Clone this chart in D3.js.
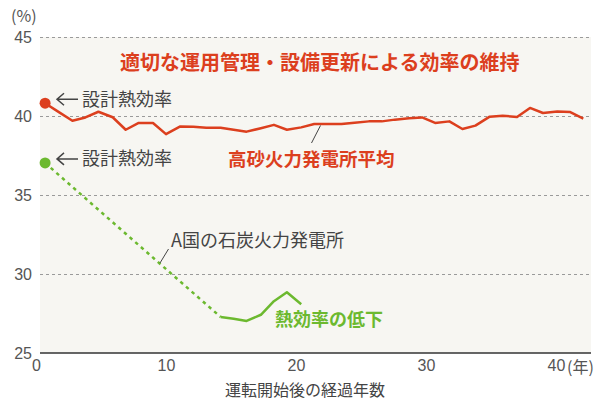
<!DOCTYPE html>
<html>
<head>
<meta charset="utf-8">
<script src="https://cdn.jsdelivr.net/npm/d3@7"></script>
<style>
  body { margin: 0; background: #fff; }
  svg { display: block; font-family: "Noto Sans CJK JP", "Noto Sans", sans-serif; }
</style>
</head>
<body>
<div id="chart"></div>
<script>
// data
const RED_YEARS = [0.7, 1.7, 2.8, 3.8, 4.8, 5.9, 6.9, 7.9, 9.0, 10.0, 11.1, 12.1, 13.1, 14.2,
                   15.2, 16.2, 17.3, 18.3, 19.3, 20.4, 21.4, 22.5, 23.5, 24.5, 25.6, 26.6, 27.6,
                   28.7, 29.7, 30.7, 31.8, 32.8, 33.8, 34.9, 35.9, 37.0, 38.0, 39.0, 40.1, 41.1, 42.1];
const RED_VALUES = [40.81, 40.28, 39.70, 39.91, 40.27, 39.92, 39.13, 39.56, 39.56, 38.85, 39.34,
                    39.32, 39.26, 39.26, 39.13, 39.01, 39.23, 39.44, 39.13, 39.28, 39.49, 39.49,
                    39.49, 39.58, 39.66, 39.66, 39.77, 39.86, 39.91, 39.56, 39.66, 39.18, 39.39,
                    39.96, 40.02, 39.94, 40.51, 40.19, 40.29, 40.25, 39.83];
const GREEN_DESIGN = {year: 0.7, value: 37.03};
const GREEN_YEARS = [14.2, 15.2, 16.2, 17.3, 18.3, 19.3, 20.4];
const GREEN_VALUES = [27.28, 27.17, 27.03, 27.42, 28.28, 28.84, 28.09];
const X_TICKS = [0, 10, 20, 30, 40];
const Y_TICKS = [25, 30, 35, 40, 45];

const FRAME_WIDTH = 594;
const FRAME_HEIGHT = 401;
const PLOT = {left: 40, right: 591, top: 37, bottom: 353};

const RED = "#dc3f1e";
const GREEN = "#6cb92f";
const TEXT = "#444";

const FRAME = d3.select("#chart")
                .append("svg")
                  .attr("width", FRAME_WIDTH)
                  .attr("height", FRAME_HEIGHT);

const X_SCALE = d3.scaleLinear().domain([0, 40]).range([36, 556]);
const Y_SCALE = d3.scaleLinear().domain([25, 45]).range([PLOT.bottom, PLOT.top]);

// plot background
FRAME.append("rect")
      .attr("x", PLOT.left)
      .attr("y", PLOT.top)
      .attr("width", PLOT.right - PLOT.left)
      .attr("height", PLOT.bottom - PLOT.top)
      .attr("fill", "#f7f6f2");

// y axis with dashed grid
const yAxis = FRAME.append("g")
      .attr("transform", "translate(" + PLOT.left + ",0)")
      .call(d3.axisLeft(Y_SCALE).tickValues(Y_TICKS)
              .tickSize(-(PLOT.right - PLOT.left)).tickPadding(8));
yAxis.select(".domain").remove();
yAxis.selectAll(".tick line")
      .attr("stroke", "#9a9a9a")
      .attr("stroke-dasharray", "3,3")
      .filter(d => d === 25).remove();
yAxis.selectAll(".tick text")
      .attr("fill", "#555")
      .style("font-size", "16px");

// x axis
const xAxis = FRAME.append("g")
      .attr("transform", "translate(0," + PLOT.bottom + ")")
      .call(d3.axisBottom(X_SCALE).tickValues(X_TICKS).tickSize(0).tickPadding(7));
xAxis.select(".domain").remove();
xAxis.selectAll(".tick text")
      .attr("fill", "#555")
      .style("font-size", "16px");

FRAME.append("line")
      .attr("x1", PLOT.left).attr("x2", PLOT.right)
      .attr("y1", PLOT.bottom).attr("y2", PLOT.bottom)
      .attr("stroke", "#333")
      .attr("stroke-width", 1.5);

FRAME.append("text")
      .attr("x", X_SCALE(40) + 11).attr("y", PLOT.bottom + 20)
      .attr("fill", "#555").style("font-size", "16px")
      .text("(年)");

FRAME.append("text")
      .attr("x", 11).attr("y", 22)
      .attr("fill", "#555").style("font-size", "16px")
      .text("(%)");

FRAME.append("text")
      .attr("x", 225).attr("y", 396)
      .attr("fill", TEXT).style("font-size", "16px")
      .text("運転開始後の経過年数");

// red line
const redData = RED_YEARS.map((y, i) => ({year: y, value: RED_VALUES[i]}));
const line = d3.line().x(d => X_SCALE(d.year)).y(d => Y_SCALE(d.value));

FRAME.append("path")
      .datum(redData)
      .attr("d", line)
      .attr("fill", "none")
      .attr("stroke", RED)
      .attr("stroke-width", 2.5)
      .attr("stroke-linejoin", "round");

FRAME.append("circle")
      .attr("cx", X_SCALE(redData[0].year))
      .attr("cy", Y_SCALE(redData[0].value))
      .attr("r", 5.5)
      .attr("fill", RED);

// green line
const greenData = GREEN_YEARS.map((y, i) => ({year: y, value: GREEN_VALUES[i]}));

FRAME.append("path")
      .datum([GREEN_DESIGN, greenData[0]])
      .attr("d", line)
      .attr("fill", "none")
      .attr("stroke", GREEN)
      .attr("stroke-width", 2.5)
      .attr("stroke-dasharray", "3.5,4");

FRAME.append("path")
      .datum(greenData)
      .attr("d", line)
      .attr("fill", "none")
      .attr("stroke", GREEN)
      .attr("stroke-width", 2.5)
      .attr("stroke-linejoin", "round");

FRAME.append("circle")
      .attr("cx", X_SCALE(GREEN_DESIGN.year))
      .attr("cy", Y_SCALE(GREEN_DESIGN.value))
      .attr("r", 5.5)
      .attr("fill", GREEN);

// annotations
FRAME.append("text")
      .attr("x", 120).attr("y", 69.5)
      .attr("fill", RED).style("font-size", "20px").style("font-weight", "bold")
      .text("適切な運用管理・設備更新による効率の維持");

// "← 設計熱効率" labels next to both start dots
[{dot: redData[0]}, {dot: GREEN_DESIGN}].forEach(o => {
  const cy = Y_SCALE(o.dot.value) - 4;
  FRAME.append("path")
        .attr("d", "M78," + cy + "H57M64," + (cy - 6) + "L57," + cy + "L64," + (cy + 6))
        .attr("fill", "none")
        .attr("stroke", TEXT)
        .attr("stroke-width", 1.5);
  FRAME.append("text")
        .attr("x", 82).attr("y", cy + 6.5)
        .attr("fill", TEXT).style("font-size", "18px")
        .text("設計熱効率");
});

FRAME.append("text")
      .attr("x", 228).attr("y", 165.5)
      .attr("fill", RED).style("font-size", "18.5px").style("font-weight", "bold")
      .text("高砂火力発電所平均");

FRAME.append("line")
      .attr("x1", 311.5).attr("y1", 143)
      .attr("x2", 320.5).attr("y2", 125.5)
      .attr("stroke", TEXT).attr("stroke-width", 1);

FRAME.append("text")
      .attr("x", 171).attr("y", 247)
      .attr("fill", TEXT).style("font-size", "18px")
      .text("A国の石炭火力発電所");

FRAME.append("line")
      .attr("x1", 160).attr("y1", 263)
      .attr("x2", 168.5).attr("y2", 249)
      .attr("stroke", TEXT).attr("stroke-width", 1);

FRAME.append("text")
      .attr("x", 275).attr("y", 326)
      .attr("fill", GREEN).style("font-size", "18px").style("font-weight", "bold")
      .text("熱効率の低下");
</script>
</body>
</html>
